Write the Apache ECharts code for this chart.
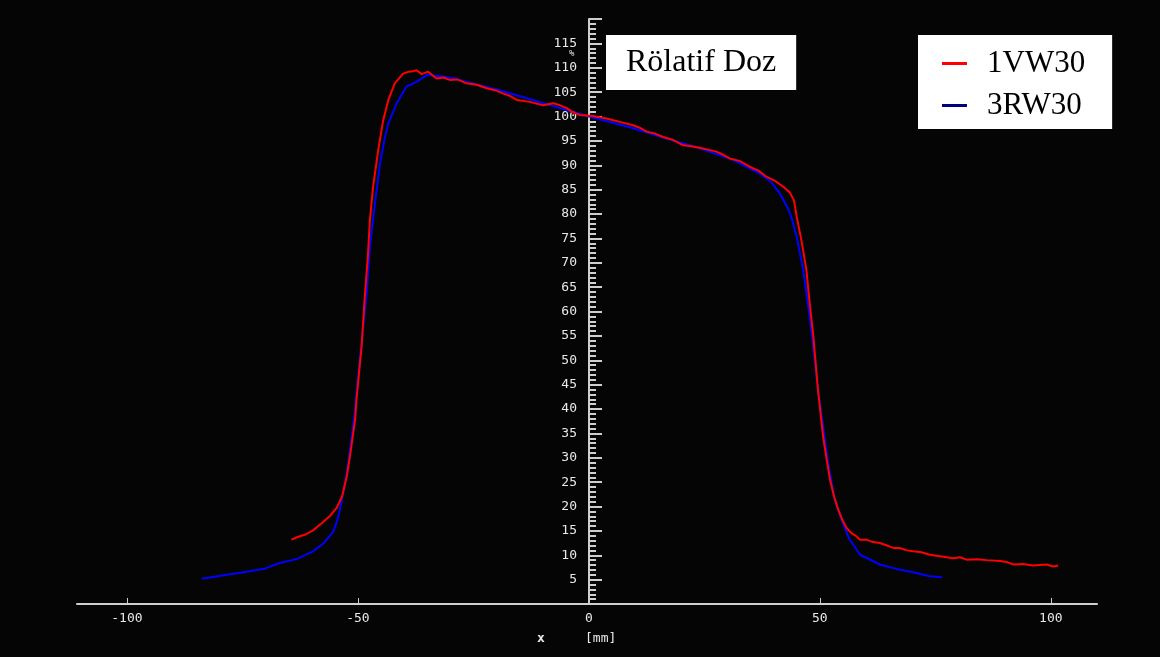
<!DOCTYPE html>
<html>
<head>
<meta charset="utf-8">
<script src="https://cdn.jsdelivr.net/npm/echarts@6/dist/echarts.min.js"></script>
<style>
  html, body { margin: 0; padding: 0; background: #000; }
  #chartLine { width: 1160px; height: 657px; }
</style>
</head>
<body>
<div id="chartLine"></div>
<script>
// profile data, x in mm, y in %
var redX = [-64.4, -62.9, -61.5, -59.7, -57.9, -56.1, -54.6, -53.4, -52.4, -51.6, -50.6, -50.3, -49.2, -48.5, -47.8, -47.4, -46.7, -45.6, -44.5, -43.4, -42.0, -40.2, -39.0, -38.0, -37.3, -36.2, -34.8, -33.0, -31.5, -30.1, -28.5, -26.5, -24.3, -22.1, -20.3, -18.5, -17.0, -15.6, -12.8, -9.9, -7.7, -6.2, -4.8, -3.3, -1.9, 0.9, 3.8, 6.7, 9.6, 11.0, 12.5, 14.3, 16.1, 18.2, 20.4, 22.2, 24.0, 25.8, 27.6, 29.0, 30.5, 32.6, 34.8, 36.7, 38.5, 40.3, 42.1, 43.5, 44.4, 45.0, 46.0, 47.1, 47.8, 48.6, 49.6, 50.7, 51.5, 52.2, 53.1, 54.0, 54.9, 55.8, 56.8, 57.9, 58.7, 60.1, 61.5, 63.0, 64.5, 65.9, 67.3, 68.8, 70.2, 72.0, 73.8, 76.0, 78.9, 80.3, 81.8, 84.0, 86.1, 89.0, 90.5, 91.9, 94.0, 96.2, 97.6, 99.1, 100.5, 101.6];
var redY = [13.2, 13.8, 14.2, 15.1, 16.5, 18.0, 19.7, 22.1, 26.2, 31.0, 37.8, 41.9, 52.8, 63.1, 71.9, 78.8, 85.6, 93.1, 99.3, 103.4, 106.8, 108.8, 109.2, 109.3, 109.5, 108.7, 109.2, 107.8, 108.0, 107.5, 107.6, 106.8, 106.5, 105.8, 105.4, 104.7, 104.2, 103.4, 103.0, 102.3, 102.7, 102.3, 101.7, 100.8, 100.3, 100.1, 99.6, 98.9, 98.2, 97.7, 96.9, 96.5, 95.8, 95.2, 94.1, 93.9, 93.6, 93.2, 92.8, 92.2, 91.4, 90.9, 89.7, 88.9, 87.6, 86.8, 85.6, 84.4, 82.8, 79.4, 74.7, 68.5, 61.7, 54.9, 43.9, 34.4, 29.5, 25.5, 22.0, 19.3, 17.2, 15.6, 14.6, 13.9, 13.2, 13.2, 12.7, 12.5, 12.0, 11.5, 11.5, 11.0, 10.8, 10.6, 10.1, 9.8, 9.4, 9.6, 9.1, 9.2, 9.0, 8.8, 8.6, 8.1, 8.2, 7.9, 8.0, 8.1, 7.7, 7.9];

var blueX = [-83.8, -79.0, -74.1, -70.0, -66.9, -63.3, -59.7, -57.5, -56.1, -55.3, -54.5, -53.9, -53.2, -52.4, -51.7, -51.4, -50.6, -50.3, -49.2, -48.1, -47.4, -46.3, -45.2, -44.3, -43.4, -41.6, -39.5, -37.3, -35.1, -32.3, -29.0, -26.5, -19.3, -12.1, -4.8, 0.9, 9.6, 16.8, 24.0, 31.2, 37.0, 39.5, 41.3, 43.0, 43.8, 45.0, 46.4, 47.5, 48.6, 49.6, 50.7, 51.8, 53.2, 55.0, 56.3, 58.7, 63.0, 66.6, 70.2, 73.8, 76.5];
var blueY = [5.2, 5.9, 6.6, 7.3, 8.4, 9.2, 10.8, 12.4, 13.9, 14.9, 17.0, 19.3, 22.8, 26.9, 31.6, 33.7, 39.8, 43.3, 53.5, 63.7, 73.3, 82.2, 90.4, 95.0, 98.6, 102.7, 106.1, 107.1, 108.5, 108.3, 107.8, 107.1, 105.4, 103.4, 101.3, 99.8, 97.6, 95.5, 93.5, 91.1, 88.3, 86.5, 84.3, 81.3, 79.5, 75.3, 68.5, 61.0, 52.8, 43.9, 36.4, 28.9, 21.4, 16.6, 13.5, 10.1, 8.1, 7.2, 6.5, 5.7, 5.5];

var seriesNames = ['1VW30', '3RW30'];
var xTickLabels = [-100, -50, 0, 50, 100];
var yTickLabels = [5, 10, 15, 20, 25, 30, 35, 40, 45, 50, 55, 60, 65, 70, 75, 80, 85, 90, 95, 100, 105, 110, 115];

function pairs(xs, ys) {
    var out = [];
    for (var i = 0; i < xs.length; i++) {
        out.push([xs[i], ys[i]]);
    }
    return out;
}

var axisColor = '#cfcfcf';
var labelFont = {
    color: '#e8e8e8',
    fontFamily: 'DejaVu Sans Mono',
    fontSize: 13
};

var myChart = echarts.init(document.getElementById('chartLine'));

var option = {
    backgroundColor: '#050505',
    animation: false,
    title: {
        text: 'Rölatif Doz',
        left: 606,
        top: 35,
        backgroundColor: '#fff',
        padding: [9, 20, 9, 20],
        textStyle: {
            color: '#000',
            fontFamily: 'Liberation Serif',
            fontWeight: 'normal',
            fontSize: 32,
            lineHeight: 37
        }
    },
    legend: {
        orient: 'vertical',
        left: 918,
        top: 35,
        backgroundColor: '#fff',
        padding: [13, 27, 8, 24],
        itemGap: 11,
        itemWidth: 25,
        itemHeight: 3,
        icon: 'rect',
        selectedMode: false,
        textStyle: {
            color: '#000',
            fontFamily: 'Liberation Serif',
            fontSize: 31,
            padding: [0, 0, 0, 15]
        },
        data: [
            { name: seriesNames[0], itemStyle: { color: '#ff0000' } },
            { name: seriesNames[1], itemStyle: { color: '#000080' } }
        ]
    },
    grid: {
        left: 77,
        right: 63,
        top: 19,
        bottom: 53
    },
    xAxis: {
        type: 'value',
        min: -110.8,
        max: 110,
        axisLine: {
            onZero: false,
            lineStyle: { color: axisColor, width: 2 }
        },
        axisTick: {
            inside: true,
            length: 6,
            customValues: xTickLabels,
            lineStyle: { color: axisColor }
        },
        axisLabel: Object.assign({
            customValues: xTickLabels,
            margin: 8
        }, labelFont),
        splitLine: { show: false }
    },
    yAxis: {
        type: 'value',
        min: 0,
        max: 120,
        interval: 5,
        // shift the whole axis from the grid edge to x = 0
        offset: -512,
        axisLine: {
            onZero: false,
            lineStyle: { color: axisColor, width: 2 }
        },
        axisTick: {
            inside: true,
            length: 13,
            lineStyle: { color: axisColor, width: 2 }
        },
        minorTick: {
            show: true,
            splitNumber: 5,
            length: 7,
            lineStyle: { color: axisColor, width: 2 }
        },
        axisLabel: Object.assign({
            customValues: yTickLabels,
            margin: 12
        }, labelFont),
        splitLine: { show: false },
        minorSplitLine: { show: false }
    },
    graphic: [
        {
            type: 'text',
            left: 569,
            top: 49,
            style: { text: '%', fill: '#e8e8e8', font: '9px "DejaVu Sans Mono"' }
        },
        {
            type: 'text',
            left: 537,
            top: 632,
            style: { text: 'x', fill: '#e8e8e8', font: 'bold 13px "DejaVu Sans Mono"' }
        },
        {
            type: 'text',
            left: 585,
            top: 632,
            style: { text: '[mm]', fill: '#e8e8e8', font: '13px "DejaVu Sans Mono"' }
        }
    ],
    series: [
        {
            name: seriesNames[0],
            type: 'line',
            z: 3,
            color: '#ff0000',
            showSymbol: false,
            lineStyle: { width: 2 },
            data: pairs(redX, redY)
        },
        {
            name: seriesNames[1],
            type: 'line',
            z: 2,
            color: '#0000ff',
            showSymbol: false,
            lineStyle: { width: 2 },
            data: pairs(blueX, blueY)
        }
    ]
};

myChart.setOption(option);
</script>
</body>
</html>
